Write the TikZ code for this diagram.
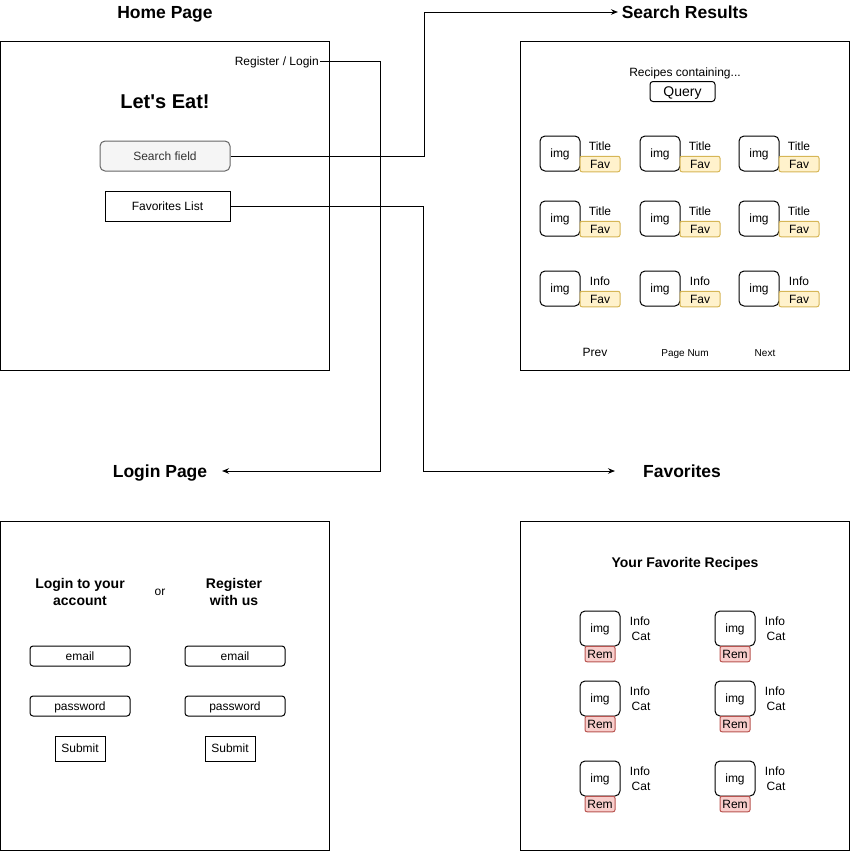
\documentclass[tikz,border=0pt]{standalone}
\usepackage{fontspec}
\setmainfont{Liberation Sans}
\usetikzlibrary{positioning,arrows.meta}
\definecolor{fieldfill}{HTML}{F5F5F5}
\definecolor{fieldline}{HTML}{666666}
\definecolor{favfill}{HTML}{FFF2CC}
\definecolor{favline}{HTML}{D6B656}
\definecolor{remfill}{HTML}{F8CECC}
\definecolor{remline}{HTML}{B85450}
\tikzset{
  every node/.style={font=\fontsize{12}{14}\selectfont, inner sep=1pt, text height=11pt, text depth=2.5pt},
  small/.style={font=\fontsize{10}{12}\selectfont, text height=9pt, text depth=2.1pt},
  pagebox/.style={draw, line width=1pt, anchor=north west, outer sep=0pt, minimum width=329pt, minimum height=329pt},
  pagetitle/.style={font=\bfseries\fontsize{17.5}{20}\selectfont, text height=16pt, text depth=3.7pt},
  subhead/.style={font=\bfseries\fontsize{14}{17}\selectfont, align=center, text height={}, text depth={}},
  uibox/.style={draw, line width=1pt, minimum width=#1, minimum height=20pt},
  uibox/.default=100pt,
  imgbox/.style={draw, line width=1pt, rounded corners=5pt, minimum width=40pt, minimum height=35pt},
  favbtn/.style={draw=favline, fill=favfill, line width=1pt, rounded corners=2pt, minimum width=40pt, minimum height=15pt},
  rembtn/.style={draw=remline, fill=remfill, line width=1pt, rounded corners=2pt, minimum width=30pt, minimum height=15pt},
  link/.style={line width=1pt, -{Stealth[length=7pt,width=5.5pt]}},
}
\begin{document}
\begin{tikzpicture}[x=1pt, y=-1pt]
  \useasboundingbox (0,0) rectangle (851,852);

  % Home page
  \node[pagetitle] (hometitle) at (165,12) {Home Page};
  \node[pagebox] (home) at (0.5,41.5) {};
  \node[anchor=east] (reglogin) at (320,61) {Register / Login};
  \node[font=\bfseries\fontsize{20}{24}\selectfont, text height=18pt, text depth=4.2pt] (letseat) at (165,102) {Let\textquotesingle s Eat!};
  \node[uibox=130pt, minimum height=30pt, rounded corners=5pt, draw=fieldline, fill=fieldfill, text=black!80] (searchfld) at (165,156) {Search field};
  \node[uibox=125pt, minimum height=30pt] (favlist) at (167.5,206) {Favorites List};

  % Search results page
  \node[pagetitle] (resultstitle) at (685,12) {Search Results};
  \node[pagebox] (results) at (520.5,41.5) {};
  \node (containing) at (685,72) {Recipes containing...};
  \node[uibox=65pt, rounded corners=3pt, font=\fontsize{14}{17}\selectfont, text height=12.8pt, text depth=3.1pt] (query) at (682.5,91.5) {Query};
  \foreach \cx/\cy/\lbl [count=\i] in {540/136/Title, 640/136/Title, 739/136/Title,
      540/201/Title, 640/201/Title, 739/201/Title,
      540/271/Info, 640/271/Info, 739/271/Info} {
    \node[imgbox] (img\i) at (\cx+20,\cy+17.5) {img};
    \node (cardttl\i) at (\cx+60,\cy+10.5) {\lbl};
    \node[favbtn] (fav\i) at (\cx+60,\cy+28) {Fav};
  }
  \node (prev) at (595,352) {Prev};
  \node[small] (pagenum) at (685,353) {Page Num};
  \node[small] (next) at (765,353) {Next};

  % Login page
  \node[pagetitle] (logintitle) at (160,471) {Login Page};
  \node[pagebox] (login) at (0.5,521.5) {};
  \node[subhead] (loginhead) at (80,591.5) {Login to your\\account};
  \node (or) at (160,591) {or};
  \node[subhead] (reghead) at (234,591.5) {Register\\with us};
  \node[uibox, rounded corners=3pt] (email1) at (80,656) {email};
  \node[uibox, rounded corners=3pt] (email2) at (235,656) {email};
  \node[uibox, rounded corners=3pt] (pass1) at (80,706) {password};
  \node[uibox, rounded corners=3pt] (pass2) at (235,706) {password};
  \node[uibox=50pt, minimum height=25pt] (submit1) at (80,748.5) {Submit};
  \node[uibox=50pt, minimum height=25pt] (submit2) at (230,748.5) {Submit};

  % Favorites page
  \node[pagetitle] (favtitle) at (682,471) {Favorites};
  \node[pagebox] (favs) at (520.5,521.5) {};
  \node[subhead] (yourfavs) at (685,563.5) {Your Favorite Recipes};
  \foreach \cx/\cy [count=\i] in {580/611, 715/611, 580/681, 715/681, 580/761, 715/761} {
    \node[imgbox] (fimg\i) at (\cx+20,\cy+17.5) {img};
    \node[rembtn] (rem\i) at (\cx+20,\cy+43) {Rem};
    \node (info\i) at (\cx+60,\cy+10) {Info};
    \node (cat\i) at (\cx+61,\cy+25) {Cat};
  }

  % Links between pages
  \coordinate (loginin) at (222,471);
  \coordinate (resultsin) at (618,12);
  \coordinate (favsin) at (615,471);
  \draw[link] (reglogin.east) -| (380,471) -- (loginin);
  \draw[link] (searchfld.east) -| (424,12) -- (resultsin);
  \draw[link] (favlist.east) -| (423,471) -- (favsin);
\end{tikzpicture}
\end{document}
